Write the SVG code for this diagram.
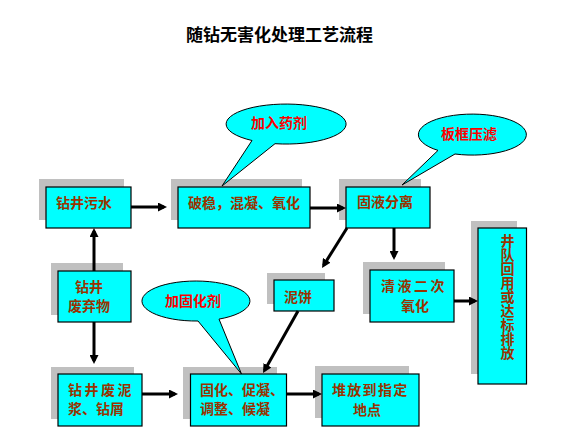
<svg xmlns="http://www.w3.org/2000/svg" width="576" height="447" viewBox="0 0 576 447">
<style>
.sh{fill:#c0c0c0;}
.bx{fill:#00ffff;stroke:#000;stroke-width:1.2;}
.t{font-family:"Noto Sans CJK SC","Noto Sans CJK TC",sans-serif;font-size:14px;fill:#993300;font-weight:bold;}
.ct{font-family:"Noto Sans CJK SC","Noto Sans CJK TC",sans-serif;font-size:14px;fill:#ff0000;font-weight:bold;}
.co{fill:#00ffff;stroke:#000;stroke-width:1;}
.ar{stroke:#000;stroke-width:3;fill:none;marker-end:url(#ah);}
.title{font-family:"Noto Sans CJK SC","Noto Sans CJK TC",sans-serif;font-size:17px;font-weight:bold;fill:#000;}
</style>
<defs>
<marker id="ah" markerUnits="userSpaceOnUse" markerWidth="9" markerHeight="9" viewBox="0 0 9 9" refX="6" refY="4.5" orient="auto">
<path d="M0,0 L9,4.5 L0,9 Z" fill="#000"/>
</marker>
</defs>
<rect width="576" height="447" fill="#fff"/>
<text class="title" x="186" y="41">随钻无害化处理工艺流程</text>

<g id="n-wushui">
<rect class="sh" x="39" y="179" width="85" height="41"/>
<rect class="bx" x="46" y="187" width="85" height="41"/>
<text class="t" x="56" y="208">钻井污水</text>
</g>
<g id="n-powen">
<rect class="sh" x="171" y="179" width="131" height="41"/>
<rect class="bx" x="178" y="187" width="132" height="41"/>
<text class="t" x="188" y="208">破稳，混凝、氧化</text>
</g>
<g id="n-guye">
<rect class="sh" x="339" y="179" width="82" height="41"/>
<rect class="bx" x="346" y="187" width="84" height="41"/>
<text class="t" x="357" y="207">固液分离</text>
</g>
<g id="n-feiqi">
<rect class="sh" x="51" y="263" width="72" height="52"/>
<rect class="bx" x="58" y="271" width="73" height="51"/>
<text class="t" x="75" y="292">钻井</text>
<text class="t" x="68" y="311">废弃物</text>
</g>
<g id="n-nijiang">
<rect class="sh" x="51" y="367" width="83" height="52"/>
<rect class="bx" x="58" y="374" width="84" height="52"/>
<text class="t" x="68" y="395" letter-spacing="2.5">钻井废泥</text>
<text class="t" x="68" y="414">浆、钻屑</text>
</g>
<g id="n-guhua">
<rect class="sh" x="183" y="367" width="94" height="52"/>
<rect class="bx" x="190.5" y="374" width="96" height="52"/>
<text class="t" x="200" y="395">固化、促凝、</text>
<text class="t" x="200" y="414">调整、候凝</text>
</g>
<g id="n-nibing">
<rect class="sh" x="267" y="273" width="58" height="31"/>
<rect class="bx" x="274" y="280" width="60" height="31"/>
<text class="t" x="284" y="302">泥饼</text>
</g>
<g id="n-qingye">
<rect class="sh" x="363" y="262" width="82" height="52"/>
<rect class="bx" x="370" y="270" width="84" height="52"/>
<text class="t" x="381" y="291" letter-spacing="2.5">清液二次</text>
<text class="t" x="401" y="311">氧化</text>
</g>
<g id="n-duifang">
<rect class="sh" x="315" y="366" width="94" height="52"/>
<rect class="bx" x="322" y="374" width="97" height="52"/>
<text class="t" x="332" y="395" letter-spacing="1.3">堆放到指定</text>
<text class="t" x="353" y="415">地点</text>
</g>
<g id="n-jingdui">
<rect class="sh" x="471" y="221" width="46" height="153"/>
<rect class="bx" x="478" y="228" width="48.5" height="156"/>
<text class="t" x="507.5" y="233.3" writing-mode="vertical-rl" letter-spacing="0.1">井队回用或达标排放</text>
</g>

<g id="c-jiaru">
<path class="co" d="M252,140.5 L222,186 L275,143.7 A60 20 0 1 0 252,140.5 Z"/>
<text class="ct" x="251" y="128">加入药剂</text>
</g>
<g id="c-banjuan">
<path class="co" d="M438,150.4 L402,185 L455,154 A54 20.5 0 1 0 438,150.4 Z"/>
<text class="ct" x="441" y="139">板框压滤</text>
</g>
<g id="c-gugu">
<path class="co" d="M198,321 L241.5,374 L219,319.1 A54 20 0 1 0 198,321 Z"/>
<text class="ct" x="165" y="306">加固化剂</text>
</g>

<g id="connectors">
<line class="ar" x1="131" y1="207" x2="164" y2="207"/>
<line class="ar" x1="310" y1="208" x2="343" y2="208"/>
<line class="ar" x1="94" y1="271" x2="94" y2="231"/>
<line class="ar" x1="94" y1="322" x2="94" y2="361"/>
<line class="ar" x1="142" y1="394" x2="175" y2="394"/>
<line class="ar" x1="347" y1="228" x2="323.6" y2="265.4"/>
<line class="ar" x1="394" y1="228" x2="394" y2="257"/>
<line class="ar" x1="298" y1="311" x2="264.5" y2="370.4"/>
<line class="ar" x1="454" y1="301" x2="475" y2="301"/>
<line class="ar" x1="286" y1="394" x2="319" y2="394"/>
</g>
</svg>
